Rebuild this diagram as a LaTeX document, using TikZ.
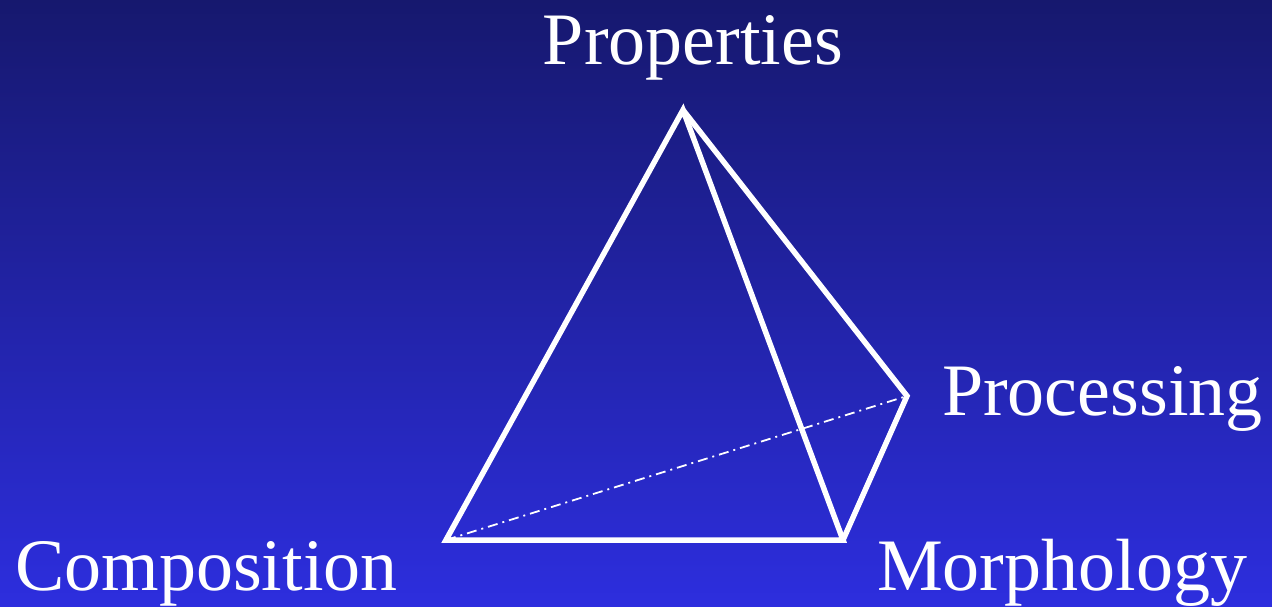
\documentclass[tikz,border=0pt]{standalone}
\usepackage{fontspec}
\setmainfont{Liberation Serif}
\definecolor{fondhaut}{RGB}{22,24,110}
\definecolor{fondbas}{RGB}{45,46,222}
\begin{document}
\begin{tikzpicture}[
    x=1pt, y=1pt,
    % Réglages des traits et des étiquettes
    arete/.style={draw=white, line width=5.5pt, line join=miter},
    cachee/.style={draw=white, line width=1.8pt, dash pattern=on 10pt off 5pt on 2pt off 5pt},
    sommet/.style={text=white, inner sep=0pt, font=\fontsize{74}{88}\selectfont}
]
% Fond dégradé
\shade[top color=fondhaut, bottom color=fondbas] (0,0) rectangle (1272,606);
\useasboundingbox (0,0) rectangle (1272,606);
% Sommets du tétraèdre
\coordinate (prop) at (683,496);
\coordinate (comp) at (446,66);
\coordinate (morph) at (843,66);
\coordinate (proc) at (907,210);
% Arêtes
\draw[cachee] (comp) -- (proc);
\draw[arete] (comp) -- (prop) -- (morph) -- cycle;
\draw[arete] (prop) -- (proc) -- (morph);
% Étiquettes
\node[sommet, anchor=base] (lprop) at (693,541) {Properties};
\node[sommet, anchor=base west] (lproc) at (942,191) {Processing};
\node[sommet, anchor=base west] (lcomp) at (15,16) {Composition};
\node[sommet, anchor=base west] (lmorph) at (877,16) {Morphology};
\end{tikzpicture}
\end{document}
